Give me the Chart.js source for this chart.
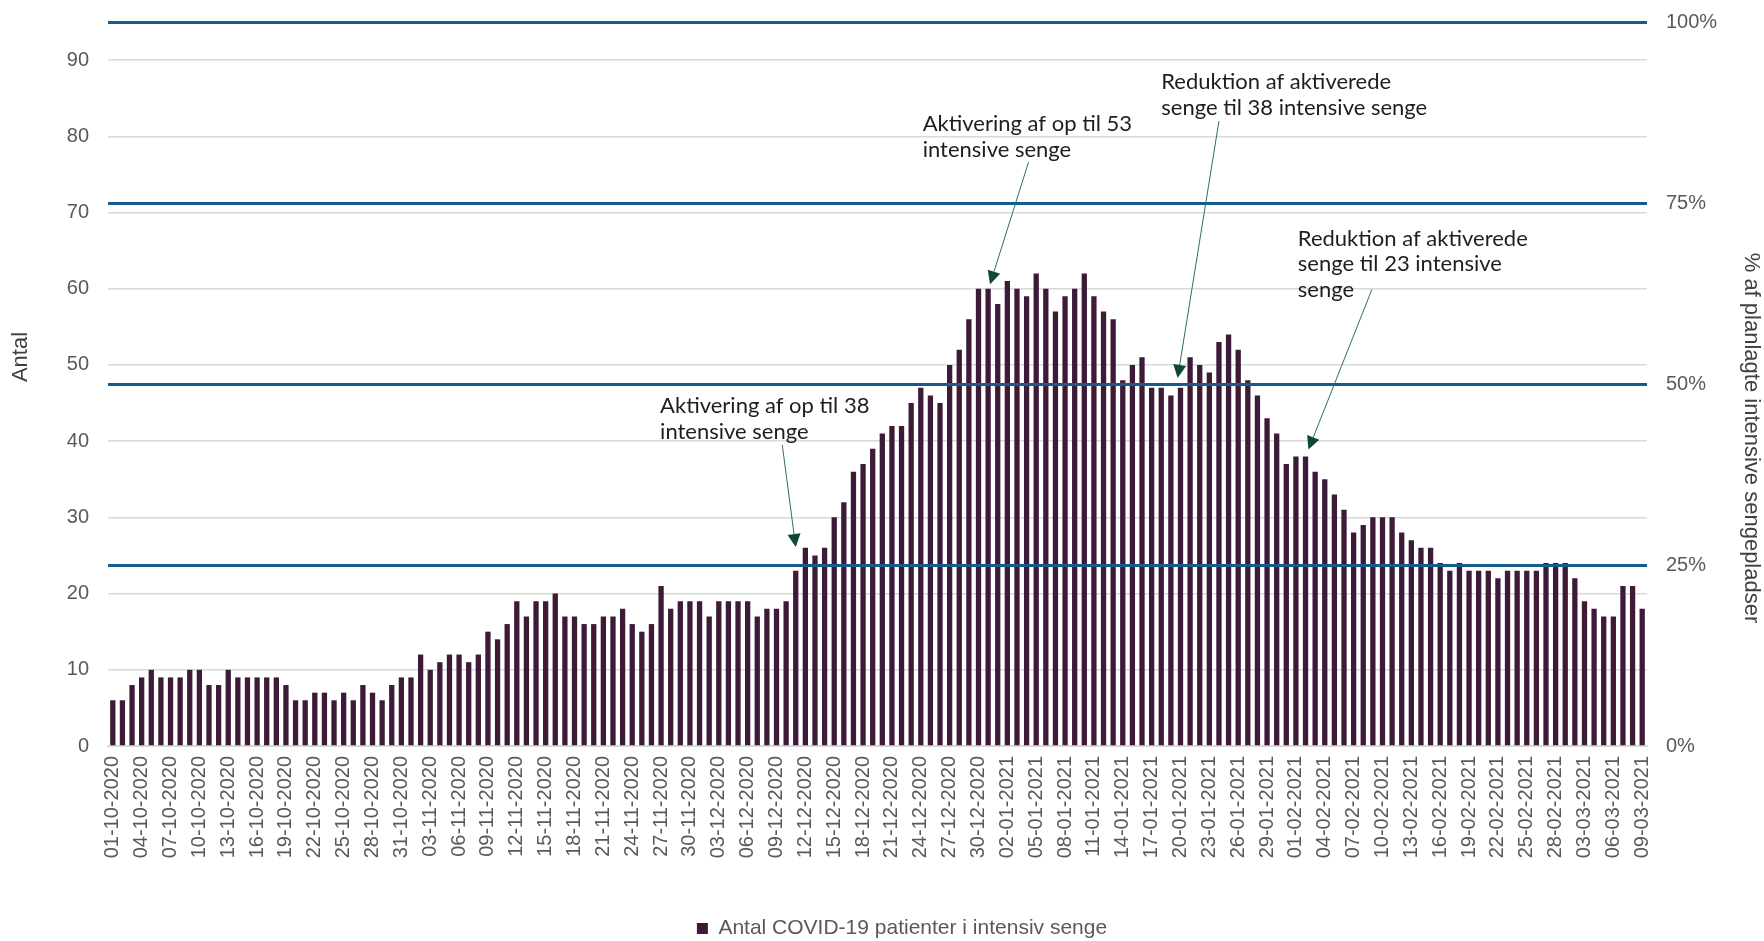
<!DOCTYPE html>
<html>
<head>
<meta charset="utf-8">
<script src="https://cdn.jsdelivr.net/npm/chart.js@4.4.1/dist/chart.umd.min.js"></script>
<style>
  html, body { margin: 0; padding: 0; background: #ffffff; }
  #wrap { width: 1764px; height: 941px; position: relative; }
</style>
</head>
<body>
<div id="wrap"><canvas id="c" width="1764" height="941"></canvas></div>
<script>
// ---------- DATA ----------
const dates = [
  '01-10-2020','02-10-2020','03-10-2020','04-10-2020','05-10-2020','06-10-2020','07-10-2020','08-10-2020','09-10-2020','10-10-2020',
  '11-10-2020','12-10-2020','13-10-2020','14-10-2020','15-10-2020','16-10-2020','17-10-2020','18-10-2020','19-10-2020','20-10-2020',
  '21-10-2020','22-10-2020','23-10-2020','24-10-2020','25-10-2020','26-10-2020','27-10-2020','28-10-2020','29-10-2020','30-10-2020',
  '31-10-2020',
  '01-11-2020','02-11-2020','03-11-2020','04-11-2020','05-11-2020','06-11-2020','07-11-2020','08-11-2020','09-11-2020','10-11-2020',
  '11-11-2020','12-11-2020','13-11-2020','14-11-2020','15-11-2020','16-11-2020','17-11-2020','18-11-2020','19-11-2020','20-11-2020',
  '21-11-2020','22-11-2020','23-11-2020','24-11-2020','25-11-2020','26-11-2020','27-11-2020','28-11-2020','29-11-2020','30-11-2020',
  '01-12-2020','02-12-2020','03-12-2020','04-12-2020','05-12-2020','06-12-2020','07-12-2020','08-12-2020','09-12-2020','10-12-2020',
  '11-12-2020','12-12-2020','13-12-2020','14-12-2020','15-12-2020','16-12-2020','17-12-2020','18-12-2020','19-12-2020','20-12-2020',
  '21-12-2020','22-12-2020','23-12-2020','24-12-2020','25-12-2020','26-12-2020','27-12-2020','28-12-2020','29-12-2020','30-12-2020',
  '31-12-2020',
  '01-01-2021','02-01-2021','03-01-2021','04-01-2021','05-01-2021','06-01-2021','07-01-2021','08-01-2021','09-01-2021','10-01-2021',
  '11-01-2021','12-01-2021','13-01-2021','14-01-2021','15-01-2021','16-01-2021','17-01-2021','18-01-2021','19-01-2021','20-01-2021',
  '21-01-2021','22-01-2021','23-01-2021','24-01-2021','25-01-2021','26-01-2021','27-01-2021','28-01-2021','29-01-2021','30-01-2021',
  '31-01-2021',
  '01-02-2021','02-02-2021','03-02-2021','04-02-2021','05-02-2021','06-02-2021','07-02-2021','08-02-2021','09-02-2021','10-02-2021',
  '11-02-2021','12-02-2021','13-02-2021','14-02-2021','15-02-2021','16-02-2021','17-02-2021','18-02-2021','19-02-2021','20-02-2021',
  '21-02-2021','22-02-2021','23-02-2021','24-02-2021','25-02-2021','26-02-2021','27-02-2021','28-02-2021',
  '01-03-2021','02-03-2021','03-03-2021','04-03-2021','05-03-2021','06-03-2021','07-03-2021','08-03-2021','09-03-2021'
];

const patients = [
  6,6,8,9,10,9,9,9,10,10,
  8,8,10,9,9,9,9,9,8,6,
  6,7,7,6,7,6,8,7,6,8,
  9,9,12,10,11,12,12,11,12,15,
  14,16,19,17,19,19,20,17,17,16,
  16,17,17,18,16,15,16,21,18,19,
  19,19,17,19,19,19,19,17,18,18,
  19,23,26,25,26,30,32,36,37,39,
  41,42,42,45,47,46,45,50,52,56,
  60,60,58,61,60,59,62,60,57,59,
  60,62,59,57,56,48,50,51,47,47,
  46,47,51,50,49,53,54,52,48,46,
  43,41,37,38,38,36,35,33,31,28,
  29,30,30,30,28,27,26,26,24,23,
  24,23,23,23,22,23,23,23,23,24,
  24,24,22,19,18,17,17,21,21,18
];

const leftTicks = [0, 10, 20, 30, 40, 50, 60, 70, 80, 90];
const leftMax = 95;              // 100 % of planned intensive beds
const rightTicks = [0, 25, 50, 75, 100];
const labelEvery = 3;

const seriesLabel = 'Antal COVID-19 patienter i intensiv senge';
const leftTitle = 'Antal';
const rightTitle = '% af planlagte intensive sengepladser';

// annotation texts; anchors in data space [category index, value]
const noteTexts = [
  ['Aktivering af op til 38', 'intensive senge'],
  ['Aktivering af op til 53', 'intensive senge'],
  ['Reduktion af aktiverede', 'senge til 38 intensive senge'],
  ['Reduktion af aktiverede', 'senge til 23 intensive', 'senge']
];
const noteTextAt = [[56.9, 44.6], [84.2, 81.6], [109.0, 87.1], [123.2, 66.6]];
const noteArrowFrom = [[69.6, 39.5], [95.2, 76.6], [115.0, 82.0], [130.9, 59.9]];
const noteArrowTo = [[71.0, 26.1], [91.2, 60.6], [110.7, 48.3], [124.3, 38.9]];

// ---------- STYLE ----------
const BAR = '#3d1a37';
const BLUE = '#175b8c';
const GRID = '#d9d9d9';
const TICK = '#595959';
const TITLE = '#404040';
Chart.defaults.font.family = '"Liberation Sans", Arial, sans-serif';

const notesPlugin = {
  id: 'notes',
  afterDraw(chart) {
    const { ctx, scales, chartArea } = chart;
    const x = scales.x, y = scales.y;
    ctx.save();

    // axis titles
    ctx.font = '22px "Liberation Sans", Arial, sans-serif';
    ctx.fillStyle = TITLE;
    ctx.textAlign = 'center';
    ctx.textBaseline = 'middle';
    ctx.save();
    ctx.translate(21, chartArea.top + 335);
    ctx.rotate(-Math.PI / 2);
    ctx.fillText(leftTitle, 0, 0);
    ctx.restore();
    ctx.save();
    ctx.translate(1751, chartArea.top + 416);
    ctx.rotate(Math.PI / 2);
    ctx.fillText(rightTitle, 0, 0);
    ctx.restore();

    noteTexts.forEach((lines, i) => {
      const tx = x.getPixelForValue(noteTextAt[i][0]);
      const ty = y.getPixelForValue(noteTextAt[i][1]);
      ctx.font = '22px Lato, "Open Sans", sans-serif';
      ctx.fillStyle = '#1e1e1e';
      ctx.textAlign = 'left';
      ctx.textBaseline = 'middle';
      lines.forEach((l, k) => ctx.fillText(l, tx, ty + k * 25.5));

      const sx = x.getPixelForValue(noteArrowFrom[i][0]);
      const sy = y.getPixelForValue(noteArrowFrom[i][1]);
      const ex = x.getPixelForValue(noteArrowTo[i][0]);
      const ey = y.getPixelForValue(noteArrowTo[i][1]);
      const ang = Math.atan2(ey - sy, ex - sx);
      const headLen = 13, headW = 6.5;
      const bx = ex - headLen * Math.cos(ang);
      const by = ey - headLen * Math.sin(ang);
      ctx.strokeStyle = '#2f6d68';
      ctx.lineWidth = 1;
      ctx.beginPath();
      ctx.moveTo(sx, sy);
      ctx.lineTo(bx, by);
      ctx.stroke();
      ctx.beginPath();
      ctx.moveTo(ex, ey);
      ctx.lineTo(bx + headW * Math.sin(ang), by - headW * Math.cos(ang));
      ctx.lineTo(bx - headW * Math.sin(ang), by + headW * Math.cos(ang));
      ctx.closePath();
      ctx.fillStyle = '#0c4738';
      ctx.fill();
    });
    ctx.restore();
  }
};

new Chart(document.getElementById('c'), {
  type: 'bar',
  data: {
    labels: dates,
    datasets: [{
      label: seriesLabel,
      data: patients,
      backgroundColor: BAR,
      borderWidth: 0,
      barPercentage: 0.55,
      categoryPercentage: 1.0,
      yAxisID: 'y'
    }]
  },
  options: {
    responsive: false,
    animation: false,
    devicePixelRatio: 1,
    layout: { padding: { top: 22, right: 0, bottom: -8, left: 40 } },
    plugins: {
      tooltip: { enabled: false },
      legend: {
        position: 'bottom',
        labels: {
          color: TICK,
          font: { size: 21 },
          boxWidth: 11,
          boxHeight: 11,
          padding: 10
        }
      }
    },
    scales: {
      x: {
        type: 'category',
        offset: true,
        grid: { display: false, drawTicks: false },
        border: { display: true, color: GRID, width: 2 },
        ticks: {
          autoSkip: false,
          maxRotation: 90,
          minRotation: 90,
          padding: 10,
          color: TICK,
          font: { size: 20 },
          callback: (v, i) => (i % labelEvery === 0 ? dates[i] : '')
        },
        afterFit: (s) => { s.height = 162; }
      },
      y: {
        position: 'left',
        min: 0,
        max: leftMax,
        afterBuildTicks: (s) => { s.ticks = leftTicks.map(v => ({ value: v })); },
        grid: { color: GRID, lineWidth: 1.5, drawTicks: false },
        border: { display: false },
        ticks: { padding: 19, color: TICK, font: { size: 20 } },
        title: { display: false, text: leftTitle },
        afterFit: (s) => { s.width = 68; s.paddingTop = 0; s.paddingBottom = 0; }
      },
      y2: {
        position: 'right',
        min: 0,
        max: 100,
        afterBuildTicks: (s) => { s.ticks = rightTicks.map(v => ({ value: v })); },
        grid: {
          z: 1,
          drawTicks: false,
          lineWidth: 3,
          color: (c) => (c.tick && c.tick.value === 0 ? 'rgba(0,0,0,0)' : BLUE)
        },
        border: { display: false },
        ticks: {
          padding: 19, color: TICK, font: { size: 20 },
          callback: (v) => v + '%'
        },
        title: { display: false, text: rightTitle },
        afterFit: (s) => { s.width = 117; s.paddingTop = 0; s.paddingBottom = 0; }
      }
    }
  },
  plugins: [notesPlugin]
});
</script>
</body>
</html>
